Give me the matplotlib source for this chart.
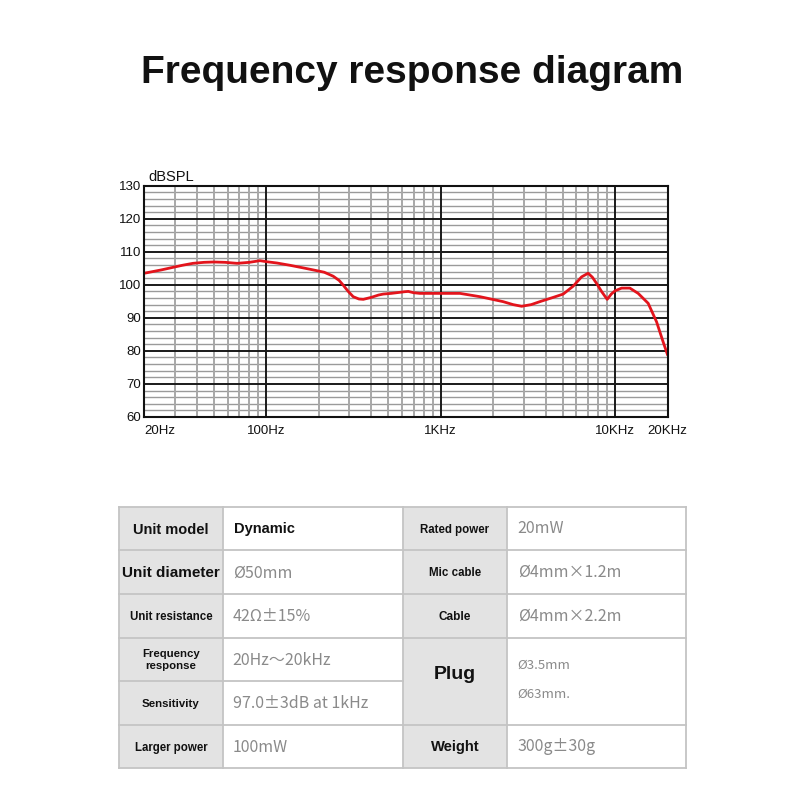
import matplotlib
matplotlib.use("Agg")
import matplotlib.pyplot as plt
from matplotlib.patches import Rectangle

# ---------------- data ----------------
freq_hz = [20, 25, 29.3, 33, 38, 44, 50, 58, 68, 80, 92, 100, 115, 137, 160, 186,
           215, 242, 262, 276, 295, 315, 340, 360, 400, 440, 469, 520, 558, 620,
           652, 700, 760, 1000, 1290, 1680, 2280, 2600, 2910, 3300, 3700, 4420,
           5040, 5750, 6420, 7000, 7400, 7830, 8400, 9000, 9500, 10000, 10890,
           12140, 13550, 15460, 17270, 18840, 20000]
spl_db = [103.5, 104.5, 105.3, 105.9, 106.5, 106.8, 106.9, 106.8, 106.5, 106.8,
          107.3, 107.0, 106.6, 105.9, 105.2, 104.5, 103.8, 102.6, 101.3, 99.9,
          98.0, 96.4, 95.7, 95.6, 96.2, 96.9, 97.2, 97.4, 97.6, 97.9, 98.0, 97.6,
          97.4, 97.4, 97.4, 96.4, 94.9, 94.0, 93.5, 94.0, 94.9, 96.2, 97.2, 99.6,
          102.4, 103.5, 102.3, 100.4, 97.8, 95.6, 97.2, 98.2, 99.0, 99.0, 97.4,
          94.4, 88.8, 82.7, 78.7]

x_tick_values = [20, 100, 1000, 10000, 20000]
x_tick_labels = ["20Hz", "100Hz", "1KHz", "10KHz", "20KHz"]
x_minor_values = [30, 40, 50, 60, 70, 80, 90,
                  200, 300, 400, 500, 600, 700, 800, 900,
                  2000, 3000, 4000, 5000, 6000, 7000, 8000, 9000]
y_tick_values = [60, 70, 80, 90, 100, 110, 120, 130]
y_minor_values = [v for v in range(60, 131, 2) if v % 10 != 0]

title_text = "Frequency response diagram"
y_unit_label = "dBSPL"

left_labels = ["Unit model", "Unit diameter", "Unit resistance",
               "Frequency\nresponse", "Sensitivity", "Larger power"]
left_values = ["Dynamic", "Ø50mm", "42Ω±15%", "20Hz～20kHz",
               "97.0±3dB at 1kHz", "100mW"]
right_labels = ["Rated power", "Mic cable", "Cable", "Plug", "Weight"]
right_values = ["20mW", "Ø4mm×1.2m", "Ø4mm×2.2m", "Ø3.5mm\nØ63mm.", "300g±30g"]
right_spans = [1, 1, 1, 2, 1]

# ---------------- figure ----------------
LAT = "Liberation Sans"
CJK = ["Noto Sans CJK SC", "DejaVu Sans"]
fig = plt.figure(figsize=(8, 8), dpi=100)
fig.patch.set_facecolor("white")

fig.text(0.5156, 0.896, title_text, ha="center", va="baseline",
         fontsize=28, fontweight="bold", family=LAT, color="#111111")

ax = fig.add_axes([0.1804, 0.4788, 0.6542, 0.2891])
ax.set_xscale("log")
ax.set_xlim(20, 20000)
ax.set_ylim(60, 130)

# grid
for v in y_minor_values:
    ax.axhline(v, color="#9a9a9a", lw=1.0, zorder=1)
for v in x_minor_values:
    ax.axvline(v, color="#a8a8a8", lw=1.4, zorder=1)
for v in y_tick_values:
    ax.axhline(v, color="#1a1a1a", lw=1.4, zorder=2)
for v in x_tick_values:
    ax.axvline(v, color="#1a1a1a", lw=1.4, zorder=2)

ax.plot(freq_hz, spl_db, color="#e3141c", lw=2.0, zorder=3,
        solid_joinstyle="round", solid_capstyle="round")

ax.set_xticks(x_tick_values)
ax.set_xticklabels(x_tick_labels)
ax.set_xticks([], minor=True)
ax.set_yticks(y_tick_values)
ax.set_yticklabels([str(v) for v in y_tick_values])
ax.tick_params(axis="both", which="both", length=0, labelsize=9.5,
               labelcolor="#111111")
ax.tick_params(axis="x", pad=6)
ax.tick_params(axis="y", pad=2)
for lab in ax.get_xticklabels() + ax.get_yticklabels():
    lab.set_family(LAT)
ax.get_xticklabels()[0].set_ha("left")
for s in ax.spines.values():
    s.set_color("#111111")
    s.set_linewidth(1.5)
    s.set_zorder(4)

fig.text(148 / 800, 1 - 181 / 800, y_unit_label, ha="left", va="baseline",
         fontsize=10.5, family=LAT, color="#111111")

# ---------------- table ----------------
tax = fig.add_axes([0, 0, 1, 1])
tax.set_xlim(0, 800)
tax.set_ylim(800, 0)
tax.axis("off")

x0, x1, x2, x3, x4 = 119, 222.7, 403.3, 506.7, 686
y_top = 506.7
row_h = (768.3 - 506.7) / 6
grid_col = "#c4c4c4"
bg_col = "#e3e3e3"
val_col = "#8a8a8a"

tax.add_patch(Rectangle((x0, y_top), x1 - x0, 6 * row_h, facecolor=bg_col,
                        edgecolor="none", zorder=1))
tax.add_patch(Rectangle((x2, y_top), x3 - x2, 6 * row_h, facecolor=bg_col,
                        edgecolor="none", zorder=1))

lw = 1.3
for xv in (x0, x1, x2, x3, x4):
    tax.plot([xv, xv], [y_top, y_top + 6 * row_h], color=grid_col, lw=lw, zorder=2)
tax.plot([x0, x4], [y_top, y_top], color=grid_col, lw=lw, zorder=2)
tax.plot([x0, x4], [y_top + 6 * row_h] * 2, color=grid_col, lw=lw, zorder=2)
for i in range(1, 6):
    yy = y_top + i * row_h
    tax.plot([x0, x2], [yy, yy], color=grid_col, lw=lw, zorder=2)
acc = 0
for sp in right_spans[:-1]:
    acc += sp
    yy = y_top + acc * row_h
    tax.plot([x2, x4], [yy, yy], color=grid_col, lw=lw, zorder=2)

left_label_sizes = [10.5, 11, 8.3, 8.2, 8.2, 8.3]
for i, (lab, val) in enumerate(zip(left_labels, left_values)):
    yc = y_top + (i + 0.5) * row_h + 1
    tax.text((x0 + x1) / 2, yc, lab, ha="center", va="center",
             fontsize=left_label_sizes[i], fontweight="bold", family=LAT,
             color="#111111", linespacing=1.25, zorder=3)
    if i == 0:
        tax.text(x1 + 11, yc, val, ha="left", va="center", fontsize=10.5,
                 fontweight="bold", family=LAT, color="#111111", zorder=3)
    else:
        tax.text(x1 + 10, yc, val, ha="left", va="center", fontsize=11.5,
                 fontweight="light", family=CJK, color=val_col, zorder=3)

right_label_sizes = [8.3, 8.3, 8.5, 14, 10.6]
acc = 0
for i, (lab, val, sp) in enumerate(zip(right_labels, right_values, right_spans)):
    yc = y_top + (acc + sp / 2) * row_h
    acc += sp
    ly = yc - 7 if sp == 2 else yc + 1
    tax.text((x2 + x3) / 2, ly, lab, ha="center", va="center",
             fontsize=right_label_sizes[i], fontweight="bold", family=LAT,
             color="#111111", zorder=3)
    if sp == 2:
        parts = val.split("\n")
        tax.text(x3 + 11, yc - 16, parts[0], ha="left", va="center",
                 fontsize=9.5, fontweight="light", family=CJK, color=val_col, zorder=3)
        tax.text(x3 + 11, yc + 13, parts[1], ha="left", va="center",
                 fontsize=9.5, fontweight="light", family=CJK, color=val_col, zorder=3)
    else:
        tax.text(x3 + 11, yc, val, ha="left", va="center", fontsize=11.5,
                 fontweight="light", family=CJK, color=val_col, zorder=3)

fig.savefig("out.png", dpi=100, facecolor="white")
